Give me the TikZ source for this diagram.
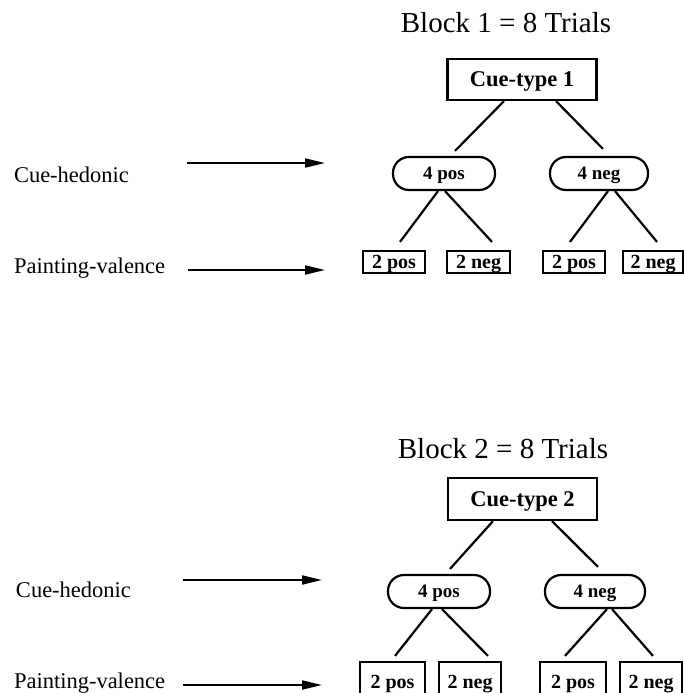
\documentclass[tikz,border=0pt]{standalone}
\usepackage{fontspec}
\setmainfont{Liberation Serif}
\usetikzlibrary{arrows.meta,calc}
\begin{document}
\begin{tikzpicture}[x=1pt,y=-1pt,
  line width=2pt,
  title/.style={font=\fontsize{29}{32}\selectfont, inner sep=0pt, anchor=base},
  side/.style={font=\fontsize{22.5}{26}\selectfont, inner sep=0pt, anchor=west},
  topbox/.style={draw, line width=2.2pt, minimum width=149pt, minimum height=41pt, inner sep=0pt, text depth=0pt, font=\bfseries\fontsize{22.5}{26}\selectfont},
  midbox/.style={draw, line width=2.2pt, rounded corners=16pt, minimum height=33pt, inner sep=0pt, text depth=0pt, font=\bfseries\fontsize{19}{22}\selectfont},
  leafbox/.style={draw, line width=2.2pt, minimum height=22pt, inner sep=0pt, text depth=0pt, font=\bfseries\fontsize{20}{22}\selectfont},
  link/.style={line width=2.2pt},
  pointer/.style={line width=2pt, -{Triangle[length=20pt,width=9pt]}}
]
\clip (0,0) rectangle (684,693);
\fill[white] (0,0) rectangle (684,693);

% ---------- Block 1 ----------
\node[title] (t1) at (506,33) {Block 1 = 8 Trials};
\node[topbox] (c1) at (522,79.5) {Cue-type 1};
\node[midbox, minimum width=102pt] (p1) at (444,173.5) {4 pos};
\node[midbox, minimum width=98pt] (n1) at (599,173.5) {4 neg};
\node[leafbox, minimum width=62pt] (l1a) at (394,262) {2 pos};
\node[leafbox, minimum width=63pt] (l1b) at (478.5,262) {2 neg};
\node[leafbox, minimum width=62pt] (l1c) at (574,262) {2 pos};
\node[leafbox, minimum width=60pt] (l1d) at (653,262) {2 neg};

\draw[link] ([xshift=-18pt]c1.south) -- ([xshift=11pt,yshift=5pt]p1.north);
\draw[link] ([xshift=34pt]c1.south) -- ([xshift=4pt,yshift=7pt]n1.north);
\draw[link] ([xshift=-6pt]p1.south) -- ([xshift=6pt,yshift=8pt]l1a.north);
\draw[link] ([xshift=1pt]p1.south) -- ([xshift=13.5pt,yshift=8pt]l1b.north);
\draw[link] ([xshift=9pt]n1.south) -- ([xshift=-4pt,yshift=8pt]l1c.north);
\draw[link] ([xshift=16pt]n1.south) -- ([xshift=4pt,yshift=8pt]l1d.north);

\node[side] (h1) at (13,175) {Cue-hedonic};
\node[side] (v1) at (13,268) {Painting-valence};
\coordinate (h1s) at (187,163);
\coordinate (h1e) at (325,163);
\coordinate (v1s) at (188,270);
\coordinate (v1e) at (325,270);
\draw[pointer] (h1s) -- (h1e);
\draw[pointer] (v1s) -- (v1e);

% ---------- Block 2 ----------
\node[title] (t2) at (503,458) {Block 2 = 8 Trials};
\node[topbox, minimum height=42pt] (c2) at (522.5,499) {Cue-type 2};
\node[midbox, minimum width=102pt] (p2) at (439,591.5) {4 pos};
\node[midbox, minimum width=100pt] (n2) at (595,591.5) {4 neg};
\node[leafbox, minimum width=65pt, minimum height=40pt] (l2a) at (392.5,682) {2 pos};
\node[leafbox, minimum width=62pt, minimum height=40pt] (l2b) at (470,682) {2 neg};
\node[leafbox, minimum width=66pt, minimum height=40pt] (l2c) at (573,682) {2 pos};
\node[leafbox, minimum width=62pt, minimum height=40pt] (l2d) at (651,682) {2 neg};

\draw[link] ([xshift=-29.5pt]c2.south) -- ([xshift=11pt,yshift=5pt]p2.north);
\draw[link] ([xshift=29.5pt]c2.south) -- ([xshift=3pt,yshift=7pt]n2.north);
\draw[link] ([xshift=-7pt]p2.south) -- ([xshift=2.5pt,yshift=5pt]l2a.north);
\draw[link] ([xshift=3pt]p2.south) -- ([xshift=18pt,yshift=5pt]l2b.north);
\draw[link] ([xshift=12pt]n2.south) -- ([xshift=-8pt,yshift=5pt]l2c.north);
\draw[link] ([xshift=17pt]n2.south) -- ([xshift=2pt,yshift=5pt]l2d.north);

\node[side] (h2) at (15,590) {Cue-hedonic};
\node[side] (v2) at (13,683) {Painting-valence};
\coordinate (h2s) at (183,580);
\coordinate (h2e) at (322,580);
\coordinate (v2s) at (183,685);
\coordinate (v2e) at (322,685);
\draw[pointer] (h2s) -- (h2e);
\draw[pointer] (v2s) -- (v2e);
\end{tikzpicture}
\end{document}
